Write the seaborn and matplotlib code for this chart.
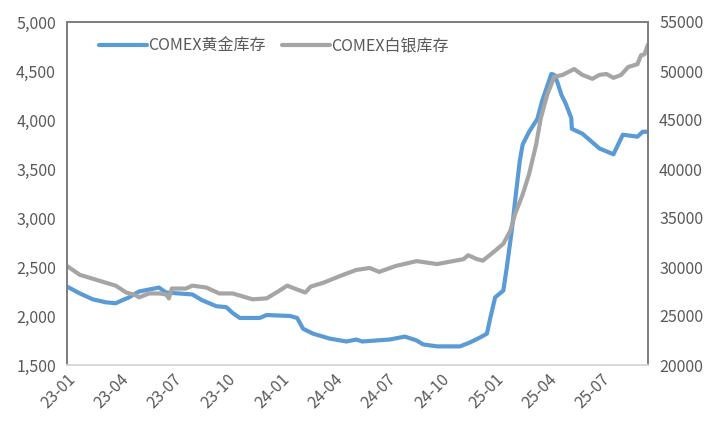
import matplotlib
matplotlib.use("Agg")
import matplotlib.pyplot as plt
import matplotlib.dates as mdates
from matplotlib.ticker import FuncFormatter, MultipleLocator
import pandas as pd
import seaborn as sns

gold_dates = ["2023-01-01", "2023-01-23", "2023-02-14", "2023-03-08", "2023-03-25", "2023-04-05",
              "2023-04-17", "2023-05-04", "2023-05-21", "2023-06-07", "2023-06-19", "2023-07-11",
              "2023-08-03", "2023-08-20", "2023-09-13", "2023-09-30", "2023-10-11", "2023-10-23",
              "2023-11-26", "2023-12-08", "2024-01-17", "2024-01-29", "2024-02-08", "2024-02-25",
              "2024-03-24", "2024-04-22", "2024-05-09", "2024-05-19", "2024-07-05", "2024-07-31",
              "2024-08-20", "2024-08-31", "2024-09-24", "2024-11-02", "2024-11-19", "2024-12-06",
              "2024-12-18", "2024-12-23", "2025-01-01", "2025-01-15", "2025-01-21", "2025-01-30",
              "2025-02-04", "2025-02-12", "2025-02-17", "2025-02-28", "2025-03-14", "2025-03-22",
              "2025-04-07", "2025-04-12", "2025-04-17", "2025-04-24", "2025-05-02", "2025-05-11",
              "2025-05-12", "2025-05-30", "2025-06-28", "2025-07-22", "2025-08-07", "2025-09-01",
              "2025-09-10", "2025-09-19"]
gold_values = [2300, 2230, 2170, 2140, 2130, 2160,
               2190, 2250, 2270, 2290, 2240, 2230,
               2220, 2160, 2100, 2090, 2030, 1980,
               1980, 2010, 2000, 1980, 1870, 1820,
               1770, 1740, 1760, 1740, 1760, 1790,
               1750, 1710, 1690, 1690, 1730, 1780,
               1820, 1960, 2190, 2260, 2500, 2900,
               3170, 3580, 3750, 3880, 4010, 4190,
               4470, 4460, 4390, 4260, 4160, 4020,
               3910, 3860, 3710, 3650, 3850, 3830,
               3880, 3880]

silver_dates = ["2023-01-01", "2023-01-23", "2023-02-14", "2023-03-08", "2023-03-25", "2023-04-12",
                "2023-04-29", "2023-05-04", "2023-05-21", "2023-06-07", "2023-06-19", "2023-06-24",
                "2023-06-29", "2023-07-23", "2023-08-03", "2023-08-27", "2023-09-18", "2023-10-11",
                "2023-11-14", "2023-12-08", "2023-12-30", "2024-01-12", "2024-01-29", "2024-02-12",
                "2024-02-21", "2024-03-14", "2024-04-12", "2024-05-09", "2024-06-01", "2024-06-17",
                "2024-07-15", "2024-08-20", "2024-09-24", "2024-11-08", "2024-11-16", "2024-12-01",
                "2024-12-11", "2024-12-28", "2025-01-15", "2025-01-27", "2025-02-04", "2025-02-17",
                "2025-02-28", "2025-03-12", "2025-03-20", "2025-03-31", "2025-04-12", "2025-04-26",
                "2025-05-16", "2025-05-30", "2025-06-16", "2025-06-28", "2025-07-10", "2025-07-22",
                "2025-08-04", "2025-08-16", "2025-09-01", "2025-09-07", "2025-09-13", "2025-09-19"]
silver_values = [30100, 29200, 28800, 28400, 28100, 27400,
                 27100, 26900, 27300, 27300, 27200, 26800,
                 27800, 27800, 28100, 27900, 27300, 27300,
                 26700, 26800, 27600, 28100, 27700, 27400,
                 28000, 28400, 29100, 29700, 29900, 29500,
                 30100, 30600, 30300, 30800, 31200, 30800,
                 30650, 31460, 32370, 33700, 35400, 37400,
                 39500, 42500, 45200, 47600, 49400, 49600,
                 50200, 49600, 49200, 49600, 49700, 49300,
                 49600, 50400, 50700, 51600, 51700, 52700]

gold_label = "COMEX黄金库存"
silver_label = "COMEX白银库存"

gold_df = pd.DataFrame({"date": pd.to_datetime(gold_dates), "value": gold_values})
silver_df = pd.DataFrame({"date": pd.to_datetime(silver_dates), "value": silver_values})

sns.set_theme(style="white")
plt.rcParams['font.family'] = ['Noto Sans CJK SC', 'DejaVu Sans']

text_color = "#595959"
blue = "#5B9BD5"
gray = "#A5A5A5"

fig = plt.figure(figsize=(7.16, 4.37), dpi=100)
ax = fig.add_axes([67/716, 1-365/437, (648-67)/716, (365-22)/437])
ax2 = ax.twinx()

sns.lineplot(data=gold_df, x="date", y="value", ax=ax, color=blue, linewidth=3.0,
             label=gold_label, legend=False)
sns.lineplot(data=silver_df, x="date", y="value", ax=ax2, color=gray, linewidth=3.0,
             label=silver_label, legend=False)

ax.set_xlim(pd.Timestamp("2023-01-01"), pd.Timestamp("2025-09-19"))
ax.set_ylim(1500, 5000)
ax2.set_ylim(20000, 55000)
ax.yaxis.set_major_locator(MultipleLocator(500))
ax2.yaxis.set_major_locator(MultipleLocator(5000))
ax.yaxis.set_major_formatter(FuncFormatter(lambda v, p: f"{int(v):,}"))
ax2.yaxis.set_major_formatter(FuncFormatter(lambda v, p: f"{int(v)}"))

ax.xaxis.set_major_locator(mdates.MonthLocator(bymonth=[1, 4, 7, 10]))
ax.xaxis.set_major_formatter(mdates.DateFormatter("%y-%m"))

for a in (ax, ax2):
    a.set_xlabel("")
    a.set_ylabel("")
    a.tick_params(axis="both", length=0, labelsize=11.5, labelcolor=text_color)
    for s in a.spines.values():
        s.set_color("#7F7F7F")
        s.set_linewidth(1.3)
    a.spines["bottom"].set_color("#D9D9D9")
    a.grid(False)

ax.tick_params(axis="y", pad=8)
ax2.tick_params(axis="y", pad=8)
ax.tick_params(axis="x", pad=4)
for lbl in ax.get_xticklabels():
    lbl.set_rotation(45)
    lbl.set_ha("right")
    lbl.set_rotation_mode("anchor")

h1, l1 = ax.get_legend_handles_labels()
h2, l2 = ax2.get_legend_handles_labels()
leg = ax2.legend(h1 + h2, l1 + l2, loc="upper left", bbox_to_anchor=(0.03, 0.995), ncol=2,
                 frameon=False, fontsize=11.5, handlelength=3.0, handletextpad=0.1,
                 columnspacing=1.0, labelcolor=text_color)

fig.savefig("out.png", dpi=100)
